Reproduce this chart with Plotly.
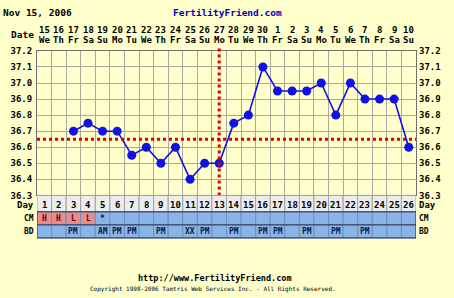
import plotly.graph_objects as go

# ---------------- data ----------------
days = list(range(1, 27))
dates = [15, 16, 17, 18, 19, 20, 21, 22, 23, 24, 25, 26, 27, 28, 29, 30,
         1, 2, 3, 4, 5, 6, 7, 8, 9, 10]
weekdays = ["We", "Th", "Fr", "Sa", "Su", "Mo", "Tu", "We", "Th", "Fr", "Sa", "Su", "Mo",
            "Tu", "We", "Th", "Fr", "Sa", "Su", "Mo", "Tu", "We", "Th", "Fr", "Sa", "Su"]
temps = [None, None, 36.7, 36.75, 36.7, 36.7, 36.55, 36.6, 36.5, 36.6, 36.4, 36.5, 36.5,
         36.75, 36.8, 37.1, 36.95, 36.95, 36.95, 37.0, 36.8, 37.0, 36.9, 36.9, 36.9, 36.6]
cm = ["H", "H", "L", "L", "*", "", "", "", "", "", "", "", "",
      "", "", "", "", "", "", "", "", "", "", "", "", ""]
bd = ["", "", "PM", "", "AM", "PM", "PM", "", "PM", "", "XX", "PM", "",
      "PM", "", "PM", "PM", "", "PM", "", "PM", "", "PM", "", "", ""]
y_ticks = [36.3, 36.4, 36.5, 36.6, 36.7, 36.8, 36.9, 37.0, 37.1, 37.2]
coverline = 36.65
ovulation_day = 13
chart_date = "Nov 15, 2006"

# ---------------- layout helpers ----------------
W, H = 454, 298
def py(px):
    return 1 - px / H
def pxx(px):
    return px / W

BG = "#FFFFCC"
GRID = "#A8A8A0"
MONO = "DejaVu Sans Mono"
BLUE_CELL = "#88B4E8"
PINK_CELL = "#E88C8C"

def font(size=9, color="#000000", bold=True):
    return dict(family=MONO, size=size, color=color, weight="bold" if bold else "normal")

def ann(x, y, text, f, xref="x", xanchor="center"):
    return dict(x=x, y=y, xref=xref, yref="paper", text=text, showarrow=False,
                xanchor=xanchor, yanchor="middle", font=f, borderpad=0)

fig = go.Figure()

fig.add_trace(go.Scatter(
    x=days, y=temps, mode="lines+markers", connectgaps=False,
    line=dict(color="#1010E8", width=1.6),
    marker=dict(color="#1010E8", size=9),
    hoverinfo="skip", showlegend=False))
# invisible trace for right axis
fig.add_trace(go.Scatter(x=[days[0]], y=[y_ticks[0]], yaxis="y2", mode="markers",
                         marker=dict(opacity=0), showlegend=False, hoverinfo="skip"))

tickfont = font(9)
ylabels = [f"{v:.1f}" for v in y_ticks]

fig.update_layout(
    width=W, height=H, margin=dict(l=0, r=0, t=0, b=0),
    paper_bgcolor=BG, plot_bgcolor=BG,
    xaxis=dict(domain=[pxx(37), pxx(416)], range=[0.5, 26.5],
               tickvals=[d + 0.5 for d in [0] + days], showticklabels=False,
               showgrid=True, gridcolor=GRID, gridwidth=1, zeroline=False,
               showline=True, linecolor="#707070", linewidth=1, mirror=True,
               ticks=""),
    yaxis=dict(domain=[py(197), py(47.5)], range=[y_ticks[0], y_ticks[-1]],
               tickvals=y_ticks, ticktext=ylabels, tickfont=tickfont,
               showgrid=True, gridcolor=GRID, gridwidth=1, zeroline=False,
               showline=True, linecolor="#707070", linewidth=1, mirror=True,
               ticks="", ticklabelstandoff=2),
    yaxis2=dict(overlaying="y", side="right", anchor="x",
                range=[y_ticks[0], y_ticks[-1]],
                tickvals=y_ticks, ticktext=ylabels, tickfont=tickfont,
                showgrid=False, zeroline=False, ticks="", ticklabelstandoff=2),
)

shapes = []
annotations = []

# coverline and ovulation line
shapes.append(dict(type="line", xref="x", yref="y", x0=0.5, x1=26.5,
                   y0=coverline, y1=coverline,
                   line=dict(color="#E00000", width=3, dash="3px,3px")))
shapes.append(dict(type="line", xref="x", yref="paper", x0=ovulation_day, x1=ovulation_day,
                   y0=py(197), y1=py(44),
                   line=dict(color="#E00000", width=3, dash="3px,3px")))

# rows below the chart
rows = [("Day", 197, 214, None), ("CM", 214, 227.5, cm), ("BD", 227.5, 241, bd)]
for name, top, bot, vals in rows:
    yc = py((top + bot) / 2 + (1.8 if name == "Day" else 0.5))
    for i, d in enumerate(days):
        if name == "Day":
            fill, edge = "#EDEDED", "#A0A0A0"
        elif name == "CM" and vals[i] in ("H", "L"):
            fill, edge = PINK_CELL, "#6F8FBF"
        else:
            fill, edge = BLUE_CELL, "#6F8FBF"
        shapes.append(dict(type="rect", xref="x", yref="paper",
                           x0=d - 0.5, x1=d + 0.5, y0=py(bot), y1=py(top),
                           fillcolor=fill, line=dict(color=edge, width=1), layer="above"))
        txt = str(d) if name == "Day" else vals[i]
        if txt:
            color = "#000000" if name == "Day" else ("#700000" if txt in ("H", "L") else "#0A1A40")
            annotations.append(ann(d, yc, txt, font(9 if name == "Day" else 8, color)))
    annotations.append(ann(pxx(35), yc, name, font(9 if name == "Day" else 8),
                           xref="paper", xanchor="right"))
    annotations.append(ann(pxx(418), yc, name, font(9 if name == "Day" else 8),
                           xref="paper", xanchor="left"))
# borders of the bottom table
shapes.append(dict(type="rect", xref="x", yref="paper", x0=0.5, x1=26.5,
                   y0=py(241), y1=py(214), line=dict(color="#303050", width=1), layer="above"))
shapes.append(dict(type="line", xref="x", yref="paper", x0=0.5, x1=26.5,
                   y0=py(227.5), y1=py(227.5), line=dict(color="#303050", width=1), layer="above"))

# date header
for i, d in enumerate(days):
    annotations.append(ann(d, py(26), str(dates[i]), font(9)))
    annotations.append(ann(d, py(36), weekdays[i], font(9)))
annotations.append(ann(pxx(35), py(31), "Date", font(9.5), xref="paper", xanchor="right"))

# titles
annotations.append(ann(pxx(2), py(8), chart_date, font(9.5), xref="paper", xanchor="left"))
annotations.append(ann(pxx(227), py(8), "FertilityFriend.com", font(9.5, "#0000C8"),
                       xref="paper"))
annotations.append(ann(pxx(215), py(282), "http://www.FertilityFriend.com", font(8.5),
                       xref="paper"))
annotations.append(ann(pxx(213), py(294),
                       "Copyright 1998-2006 Tamtris Web Services Inc. - All Rights Reserved.",
                       font(6, bold=False), xref="paper"))

fig.update_layout(shapes=shapes, annotations=annotations)
fig.write_html("out.html")
